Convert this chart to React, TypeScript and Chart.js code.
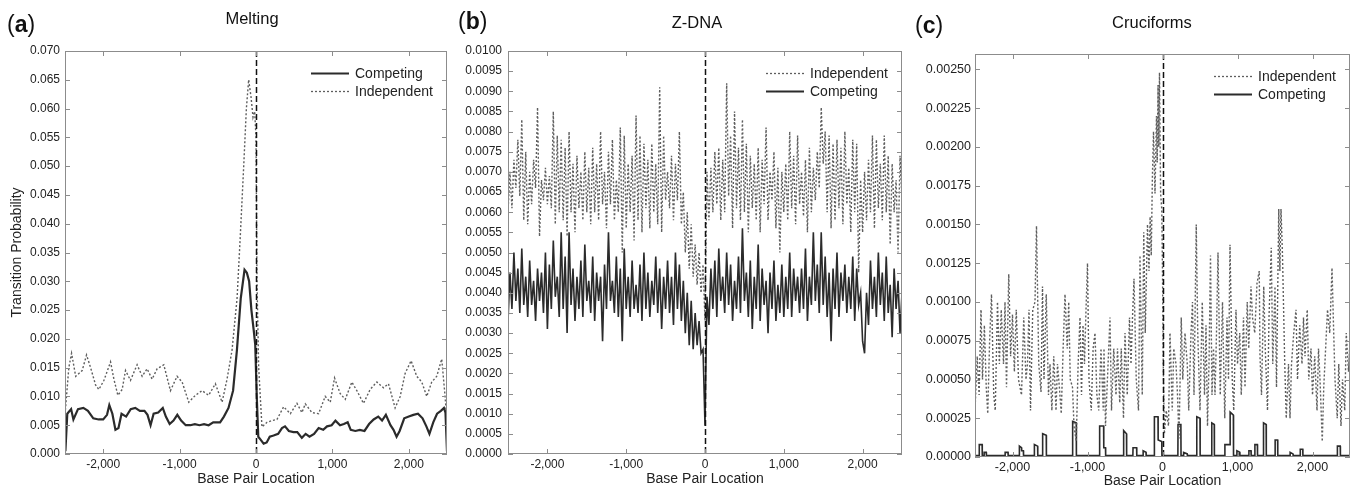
import React, { useEffect, useRef } from 'react';
import { Chart, registerables } from 'chart.js';
Chart.register(...registerables);

const FONT = '"Liberation Sans", Arial, Helvetica, sans-serif';

// ---------- shared x ticks ----------
const X_TICKS = [-2000, -1000, 0, 1000, 2000];

// ---------- Panel (a) Melting ----------
const A_Y_TICKS = [0, 0.005, 0.01, 0.015, 0.02, 0.025, 0.03, 0.035, 0.04, 0.045, 0.05, 0.055, 0.06, 0.065, 0.07];
const A_IND_X = [-2495, -2450, -2414, -2360, -2275, -2218, -2165, -2100, -2057, -1990, -1904, -1860, -1808, -1752, -1708, -1643, -1556, -1490, -1425, -1360, -1294, -1207, -1120, -1033, -967, -880, -793, -706, -619, -532, -444, -379, -314, -248, -205, -161, -126, -96, -65, -39, -17, 0, 13, 35, 78, 144, 209, 274, 362, 449, 536, 601, 645, 732, 819, 906, 972, 1028, 1102, 1168, 1255, 1320, 1407, 1494, 1582, 1669, 1734, 1821, 1887, 1952, 2030, 2104, 2170, 2235, 2300, 2366, 2431, 2475, 2497];
const A_IND_Y = [0.0076, 0.0150, 0.0175, 0.0135, 0.0145, 0.0172, 0.0150, 0.0120, 0.0112, 0.0128, 0.0160, 0.0130, 0.0102, 0.0112, 0.0145, 0.0128, 0.0155, 0.0135, 0.0148, 0.0130, 0.0148, 0.0155, 0.0110, 0.0135, 0.0125, 0.0090, 0.0102, 0.0110, 0.0102, 0.0122, 0.0090, 0.0130, 0.0180, 0.0270, 0.0380, 0.0500, 0.0600, 0.0650, 0.0620, 0.0585, 0.0595, 0.0550, 0.0300, 0.0150, 0.0047, 0.0055, 0.0058, 0.0060, 0.0082, 0.0070, 0.0088, 0.0072, 0.0087, 0.0072, 0.0070, 0.0100, 0.0090, 0.0132, 0.0105, 0.0095, 0.0125, 0.0110, 0.0088, 0.0112, 0.0125, 0.0115, 0.0122, 0.0080, 0.0100, 0.0140, 0.0162, 0.0135, 0.0125, 0.0100, 0.0125, 0.0135, 0.0165, 0.0100, 0.0060];
const A_COMP_X = [-2495, -2470, -2420, -2390, -2330, -2260, -2200, -2130, -2060, -2000, -1950, -1920, -1880, -1840, -1800, -1760, -1700, -1640, -1580, -1520, -1460, -1420, -1380, -1340, -1280, -1220, -1180, -1130, -1080, -1030, -980, -920, -860, -800, -740, -680, -620, -560, -510, -470, -420, -360, -300, -250, -200, -150, -120, -90, -60, -30, -10, 10, 30, 60, 100, 140, 180, 230, 290, 340, 380, 430, 490, 540, 600, 650, 700, 760, 820, 880, 930, 990, 1040, 1100, 1150, 1200, 1240, 1300, 1360, 1420, 1480, 1540, 1600, 1650, 1700, 1760, 1800, 1840, 1880, 1940, 2000, 2060, 2120, 2180, 2230, 2270, 2320, 2370, 2420, 2460, 2480, 2500];
const A_COMP_Y = [0.0005, 0.0070, 0.0078, 0.0060, 0.0078, 0.0080, 0.0075, 0.0062, 0.0060, 0.0060, 0.0068, 0.0085, 0.0070, 0.0042, 0.0045, 0.0070, 0.0065, 0.0078, 0.0080, 0.0075, 0.0075, 0.0068, 0.0050, 0.0070, 0.0072, 0.0080, 0.0065, 0.0052, 0.0058, 0.0068, 0.0058, 0.0050, 0.0050, 0.0052, 0.0050, 0.0052, 0.0050, 0.0055, 0.0055, 0.0055, 0.0065, 0.0080, 0.0110, 0.0180, 0.0270, 0.0320, 0.0315, 0.0300, 0.0250, 0.0215, 0.0190, 0.0100, 0.0030, 0.0025, 0.0018, 0.0020, 0.0030, 0.0032, 0.0035, 0.0045, 0.0048, 0.0040, 0.0038, 0.0038, 0.0028, 0.0035, 0.0030, 0.0035, 0.0045, 0.0042, 0.0048, 0.0050, 0.0058, 0.0050, 0.0052, 0.0055, 0.0042, 0.0040, 0.0042, 0.0040, 0.0052, 0.0060, 0.0065, 0.0058, 0.0068, 0.0050, 0.0042, 0.0030, 0.0040, 0.0062, 0.0065, 0.0068, 0.0070, 0.0062, 0.0048, 0.0035, 0.0055, 0.0070, 0.0075, 0.0080, 0.0072, 0.0005];

// ---------- Panel (b) Z-DNA (values every 25 bp from -2500 to 2500) ----------
const B_X_START = -2500;
const B_X_STEP = 25;
const B_Y_TICKS = [0, 0.0005, 0.001, 0.0015, 0.002, 0.0025, 0.003, 0.0035, 0.004, 0.0045, 0.005, 0.0055, 0.006, 0.0065, 0.007, 0.0075, 0.008, 0.0085, 0.009, 0.0095, 0.01];
const B_IND = [
  0.0060, 0.0070, 0.0061, 0.0073, 0.0066, 0.0078, 0.0064, 0.0083, 0.0058,
  0.0075, 0.0057, 0.0070, 0.0062, 0.0073, 0.0066, 0.0086, 0.0054,
  0.0068, 0.0063, 0.0071, 0.0062, 0.0069, 0.0061, 0.0085, 0.0057,
  0.0079, 0.0060, 0.0078, 0.0058, 0.0076, 0.0054, 0.0080, 0.0060,
  0.0072, 0.0055, 0.0074, 0.0061, 0.0070, 0.0058, 0.0075, 0.0060,
  0.0071, 0.0057, 0.0076, 0.0060, 0.0072, 0.0058, 0.0080, 0.0062,
  0.0070, 0.0056, 0.0075, 0.0062, 0.0078, 0.0058, 0.0068, 0.0060,
  0.0081, 0.0050, 0.0079, 0.0056, 0.0072, 0.0060, 0.0074, 0.0053,
  0.0084, 0.0058, 0.0079, 0.0055, 0.0077, 0.0061, 0.0073, 0.0056,
  0.0077, 0.0060, 0.0072, 0.0057, 0.0091, 0.0055, 0.0079, 0.0063,
  0.0070, 0.0061, 0.0074, 0.0058, 0.0072, 0.0063, 0.0080, 0.0057,
  0.0065, 0.0050, 0.0060, 0.0046, 0.0057, 0.0044, 0.0052, 0.0042,
  0.0050, 0.0040, 0.0047, 0.0033,
  0.0070, 0.0058, 0.0071, 0.0060, 0.0075, 0.0062, 0.0076, 0.0058,
  0.0073, 0.0060, 0.0092, 0.0064, 0.0079, 0.0056, 0.0085, 0.0061,
  0.0076, 0.0058, 0.0083, 0.0060, 0.0077, 0.0055, 0.0074, 0.0061,
  0.0072, 0.0058, 0.0076, 0.0055, 0.0073, 0.0062, 0.0081, 0.0058,
  0.0070, 0.0063, 0.0075, 0.0056, 0.0071, 0.0050, 0.0070, 0.0060,
  0.0072, 0.0058, 0.0080, 0.0061, 0.0074, 0.0057, 0.0079, 0.0062,
  0.0070, 0.0059, 0.0073, 0.0055, 0.0076, 0.0060, 0.0071, 0.0063,
  0.0075, 0.0066, 0.0086, 0.0072, 0.0080, 0.0060, 0.0079, 0.0056,
  0.0077, 0.0058, 0.0078, 0.0061, 0.0076, 0.0057, 0.0080, 0.0062,
  0.0071, 0.0055, 0.0078, 0.0060, 0.0077, 0.0045, 0.0068, 0.0055,
  0.0070, 0.0058, 0.0073, 0.0060, 0.0079, 0.0056, 0.0078, 0.0061,
  0.0072, 0.0058, 0.0079, 0.0060, 0.0074, 0.0052, 0.0072, 0.0060,
  0.0068, 0.0050, 0.0074, 0.0063,
];
const B_COMP = [
  0.0033, 0.0045, 0.0036, 0.0050, 0.0038, 0.0046, 0.0035, 0.0051, 0.0037,
  0.0044, 0.0034, 0.0048, 0.0037, 0.0043, 0.0033, 0.0046, 0.0038,
  0.0045, 0.0035, 0.0050, 0.0031, 0.0047, 0.0036, 0.0053, 0.0039,
  0.0044, 0.0034, 0.0055, 0.0036, 0.0049, 0.0030, 0.0055, 0.0037,
  0.0046, 0.0033, 0.0044, 0.0036, 0.0048, 0.0034, 0.0052, 0.0038,
  0.0043, 0.0035, 0.0049, 0.0033, 0.0045, 0.0038, 0.0044, 0.0028,
  0.0047, 0.0036, 0.0055, 0.0038, 0.0043, 0.0035, 0.0049, 0.0034,
  0.0046, 0.0028, 0.0051, 0.0036, 0.0044, 0.0034, 0.0048, 0.0036,
  0.0042, 0.0035, 0.0047, 0.0033, 0.0050, 0.0036, 0.0045, 0.0034,
  0.0043, 0.0037, 0.0049, 0.0035, 0.0046, 0.0031, 0.0044, 0.0036,
  0.0048, 0.0035, 0.0044, 0.0032, 0.0050, 0.0036, 0.0047, 0.0033,
  0.0043, 0.0030, 0.0040, 0.0027, 0.0038, 0.0026, 0.0035, 0.0027,
  0.0033, 0.0025, 0.0026, 0.0007,
  0.0039, 0.0032, 0.0046, 0.0036, 0.0048, 0.0034, 0.0051, 0.0038,
  0.0044, 0.0035, 0.0050, 0.0037, 0.0047, 0.0033, 0.0043, 0.0036,
  0.0049, 0.0035, 0.0056, 0.0038, 0.0045, 0.0034, 0.0048, 0.0031,
  0.0044, 0.0036, 0.0052, 0.0033, 0.0046, 0.0037, 0.0043, 0.0030,
  0.0045, 0.0036, 0.0048, 0.0033, 0.0042, 0.0035, 0.0047, 0.0034,
  0.0044, 0.0036, 0.0050, 0.0034, 0.0046, 0.0038, 0.0044, 0.0035,
  0.0046, 0.0036, 0.0051, 0.0033, 0.0044, 0.0037, 0.0055, 0.0038,
  0.0047, 0.0035, 0.0055, 0.0037, 0.0049, 0.0034, 0.0045, 0.0028,
  0.0046, 0.0036, 0.0050, 0.0034, 0.0045, 0.0038, 0.0047, 0.0035,
  0.0044, 0.0036, 0.0049, 0.0033, 0.0046, 0.0037, 0.0040, 0.0028,
  0.0025, 0.0040, 0.0032, 0.0048, 0.0036, 0.0044, 0.0034, 0.0050,
  0.0037, 0.0045, 0.0033, 0.0049, 0.0035, 0.0042, 0.0029, 0.0046,
  0.0036, 0.0043, 0.0030, 0.0040,
];

// ---------- Panel (c) Cruciforms ----------
const C_Y_TICKS = [0, 0.00025, 0.0005, 0.00075, 0.001, 0.00125, 0.0015, 0.00175, 0.002, 0.00225, 0.0025];
const C_IND = [
  [-2500, 0.00030], [-2470, 0.00065], [-2445, 0.00040], [-2420, 0.00095], [-2400, 0.00050], [-2375, 0.00085], [-2350, 0.00045], [-2330, 0.00028], [-2305, 0.00075], [-2280, 0.00105],
  [-2250, 0.00040], [-2230, 0.00030], [-2200, 0.00100], [-2175, 0.00060], [-2150, 0.00095], [-2120, 0.00060], [-2100, 0.00100], [-2080, 0.00045], [-2050, 0.00118], [-2025, 0.00065],
  [-2000, 0.00092], [-1975, 0.00055], [-1950, 0.00095], [-1920, 0.00050], [-1880, 0.00040], [-1850, 0.00090], [-1820, 0.00050], [-1800, 0.00060], [-1780, 0.00095], [-1760, 0.00030],
  [-1730, 0.00095], [-1700, 0.00100], [-1680, 0.00149], [-1650, 0.00060], [-1620, 0.00042], [-1600, 0.00110], [-1580, 0.00050], [-1550, 0.00105], [-1520, 0.00040], [-1500, 0.00060],
  [-1475, 0.00030], [-1450, 0.00065], [-1420, 0.00030], [-1400, 0.00060], [-1375, 0.00045], [-1350, 0.00028], [-1325, 0.00070], [-1300, 0.00105], [-1270, 0.00070], [-1250, 0.00100],
  [-1230, 0.00050], [-1200, 0.00045], [-1180, 0.00020], [-1150, 0.00010], [-1125, 0.00060], [-1100, 0.00090], [-1080, 0.00040], [-1060, 0.00085], [-1040, 0.00060], [-1020, 0.00095],
  [-1000, 0.00125], [-980, 0.00050], [-950, 0.00030], [-925, 0.00070], [-900, 0.00080], [-875, 0.00040], [-850, 0.00030], [-820, 0.00070], [-790, 0.00030], [-780, 0.00070],
  [-760, 0.00020], [-730, 0.00055], [-700, 0.00090], [-680, 0.00030], [-650, 0.00070], [-620, 0.00040], [-600, 0.00070], [-570, 0.00035], [-550, 0.00070], [-520, 0.00025],
  [-500, 0.00080], [-470, 0.00040], [-440, 0.00090], [-420, 0.00060], [-400, 0.00090], [-380, 0.00115], [-350, 0.00050], [-320, 0.00030], [-300, 0.00130], [-270, 0.00040],
  [-250, 0.00145], [-230, 0.00080], [-200, 0.00150], [-180, 0.00120], [-165, 0.00155], [-150, 0.00130], [-135, 0.00180], [-120, 0.00210], [-100, 0.00170], [-80, 0.00220],
  [-70, 0.00190], [-60, 0.00240], [-50, 0.00200], [-40, 0.00248], [-25, 0.00170], [-10, 0.00160], [0, 0.00120], [10, 0.00060], [25, 0.00015], [50, 0.00030],
  [80, 0.00020], [100, 0.00080], [130, 0.00030], [150, 0.00070], [180, 0.00060], [200, 0.00040], [220, 0.00012], [250, 0.00090], [270, 0.00050], [300, 0.00080],
  [330, 0.00060], [350, 0.00030], [380, 0.00080], [400, 0.00100], [420, 0.00040], [450, 0.00150], [470, 0.00080], [500, 0.00030], [530, 0.00100], [560, 0.00040],
  [580, 0.00085], [600, 0.00020], [620, 0.00060], [640, 0.00130], [660, 0.00040], [680, 0.00070], [700, 0.00040], [720, 0.00080], [740, 0.00132], [770, 0.00040],
  [800, 0.00100], [830, 0.00025], [860, 0.00090], [880, 0.00050], [900, 0.00137], [930, 0.00050], [950, 0.00030], [980, 0.00095], [1000, 0.00060], [1030, 0.00080],
  [1050, 0.00040], [1080, 0.00090], [1100, 0.00045], [1130, 0.00100], [1150, 0.00070], [1180, 0.00110], [1200, 0.00090], [1230, 0.00080], [1260, 0.00112], [1290, 0.00120],
  [1300, 0.00065], [1320, 0.00040], [1350, 0.00110], [1370, 0.00070], [1400, 0.00030], [1420, 0.00090], [1450, 0.00135], [1470, 0.00060], [1500, 0.00110], [1520, 0.00045],
  [1550, 0.00160], [1565, 0.00120], [1580, 0.00160], [1600, 0.00130], [1630, 0.00060], [1650, 0.00025], [1680, 0.00060], [1700, 0.00025], [1720, 0.00060], [1750, 0.00080],
  [1780, 0.00095], [1800, 0.00050], [1830, 0.00085], [1860, 0.00060], [1880, 0.00090], [1900, 0.00065], [1930, 0.00095], [1950, 0.00050], [1980, 0.00070], [2000, 0.00040],
  [2030, 0.00065], [2060, 0.00030], [2080, 0.00070], [2100, 0.00050], [2130, 0.00010], [2150, 0.00045], [2180, 0.00075], [2200, 0.00095], [2230, 0.00080], [2260, 0.00122],
  [2280, 0.00085], [2300, 0.00050], [2330, 0.00025], [2350, 0.00060], [2380, 0.00020], [2400, 0.00050], [2430, 0.00030], [2450, 0.00080], [2480, 0.00055], [2500, 0.00075],
];
const C_COMP = [
  [-2500, 0.00001],
  [-2445, 0.00001], [-2443, 0.00008], [-2405, 0.00008], [-2403, 0.00001],
  [-2380, 0.00001], [-2378, 0.00003], [-2350, 0.00003], [-2348, 0.00001],
  [-2100, 0.00001], [-2098, 0.00003], [-2060, 0.00003], [-2058, 0.00001],
  [-1910, 0.00001], [-1908, 0.00007], [-1880, 0.00006], [-1878, 0.00004], [-1855, 0.00004], [-1853, 0.00001],
  [-1710, 0.00001], [-1708, 0.00008], [-1665, 0.00007], [-1663, 0.00001],
  [-1600, 0.00001], [-1598, 0.00015], [-1550, 0.00014], [-1548, 0.00001],
  [-1200, 0.00001], [-1198, 0.00023], [-1150, 0.00022], [-1148, 0.00001],
  [-840, 0.00001], [-838, 0.00020], [-785, 0.00020], [-783, 0.00006], [-760, 0.00006], [-758, 0.00001],
  [-520, 0.00001], [-518, 0.00017], [-480, 0.00015], [-478, 0.00001],
  [-395, 0.00001], [-393, 0.00006], [-345, 0.00006], [-343, 0.00001],
  [-260, 0.00001], [-258, 0.00004], [-220, 0.00003], [-218, 0.00001],
  [-110, 0.00001], [-108, 0.00026], [-60, 0.00026], [-58, 0.00011], [-10, 0.00010], [-8, 0.00001],
  [205, 0.00001], [207, 0.00021], [245, 0.00021], [247, 0.00001],
  [280, 0.00001], [282, 0.00003], [330, 0.00002], [332, 0.00001],
  [455, 0.00001], [457, 0.00026], [500, 0.00025], [502, 0.00001],
  [655, 0.00001], [657, 0.00022], [690, 0.00021], [692, 0.00001],
  [830, 0.00001], [832, 0.00008], [900, 0.00008], [902, 0.00029], [945, 0.00027], [947, 0.00001],
  [990, 0.00001], [992, 0.00004], [1030, 0.00003], [1032, 0.00001],
  [1150, 0.00001], [1152, 0.00004], [1180, 0.00004], [1182, 0.00001],
  [1230, 0.00001], [1232, 0.00008], [1265, 0.00008], [1267, 0.00001],
  [1345, 0.00001], [1347, 0.00022], [1382, 0.00021], [1384, 0.00001],
  [1500, 0.00001], [1502, 0.00011], [1535, 0.00011], [1537, 0.00001],
  [1700, 0.00001], [1702, 0.00003], [1740, 0.00002], [1742, 0.00001],
  [1835, 0.00001], [1837, 0.00005], [1870, 0.00005], [1872, 0.00001],
  [2330, 0.00001], [2332, 0.00007], [2370, 0.00007], [2372, 0.00001],
  [2500, 0.00001],
];

// ---------- helpers ----------
const zip = (xs: number[], ys: number[]) => xs.slice(0, Math.min(xs.length, ys.length)).map((x, i) => ({ x, y: ys[i] }));
const pairs = (p: number[][]) => p.map(([x, y]) => ({ x, y }));
const grid = (ys: number[], start: number, step: number) => ys.map((y, i) => ({ x: start + i * step, y }));

const COMP_COLOR = '#2b2b2b';
const IND_COLOR = '#5e5e5e';
const TEXT_COLOR = '#222';
const FRAME_COLOR = '#8c8c8c';

type LegendItem = { label: string; dotted: boolean };

function decorPlugin(yTicks: number[], legend: LegendItem[]) {
  return {
    id: 'decor',
    afterDraw(chart: any) {
      const { ctx, chartArea: a, scales } = chart;
      const xs = scales.x, ys = scales.y;
      ctx.save();
      // zero line
      const zx = Math.round(xs.getPixelForValue(0)) + 0.5;
      ctx.strokeStyle = '#111';
      ctx.lineWidth = 1.5;
      ctx.setLineDash([6, 3]);
      ctx.beginPath();
      ctx.moveTo(zx, a.top);
      ctx.lineTo(zx, a.bottom);
      ctx.stroke();
      ctx.setLineDash([]);
      // frame
      ctx.strokeStyle = FRAME_COLOR;
      ctx.lineWidth = 1;
      ctx.strokeRect(a.left + 0.5, a.top + 0.5, a.right - a.left - 1, a.bottom - a.top - 1);
      // inward ticks
      const TL = 5;
      ctx.beginPath();
      for (const v of yTicks) {
        const py = Math.round(ys.getPixelForValue(v)) + 0.5;
        ctx.moveTo(a.left, py); ctx.lineTo(a.left + TL, py);
        ctx.moveTo(a.right, py); ctx.lineTo(a.right - TL, py);
      }
      for (const v of X_TICKS) {
        const px = Math.round(xs.getPixelForValue(v)) + 0.5;
        ctx.moveTo(px, a.bottom); ctx.lineTo(px, a.bottom - TL);
        ctx.moveTo(px, a.top); ctx.lineTo(px, a.top + TL);
      }
      ctx.stroke();
      // legend
      const x0 = a.right - 136;
      const len = 38;
      ctx.font = `14px ${FONT}`;
      ctx.textBaseline = 'middle';
      ctx.textAlign = 'left';
      legend.forEach((it, i) => {
        const y = a.top + 22 + i * 18;
        ctx.beginPath();
        ctx.strokeStyle = it.dotted ? IND_COLOR : COMP_COLOR;
        ctx.lineWidth = it.dotted ? 1.3 : 1.8;
        ctx.setLineDash(it.dotted ? [2, 2] : []);
        ctx.moveTo(x0, y + 0.5);
        ctx.lineTo(x0 + len, y + 0.5);
        ctx.stroke();
        ctx.setLineDash([]);
        ctx.fillStyle = TEXT_COLOR;
        ctx.fillText(it.label, x0 + len + 6, y + 1);
      });
      ctx.restore();
    },
  };
}

type Spec = {
  left: number; w: number; padTop: number; padRight: number;
  yWidth: number; xHeight: number; yMax: number; yTicks: number[]; decimals: number;
  tickPad: number; tickFont: number; yTitle?: string; xTitlePad: number;
  datasets: any[]; legend: LegendItem[];
};

function compDs(data: any[], width: number) {
  return { label: 'Competing', data, borderColor: COMP_COLOR, borderWidth: width, pointRadius: 0, fill: false, tension: 0 };
}
function indDs(data: any[], width: number) {
  return { label: 'Independent', data, borderColor: IND_COLOR, borderWidth: width, borderDash: [2, 2], pointRadius: 0, fill: false, tension: 0 };
}

function buildConfig(s: Spec): any {
  return {
    type: 'line',
    data: { datasets: s.datasets },
    options: {
      animation: false,
      responsive: false,
      devicePixelRatio: 1,
      layout: { padding: { top: s.padTop, right: s.padRight, left: 0, bottom: 0 } },
      plugins: { legend: { display: false }, tooltip: { enabled: false }, title: { display: false } },
      scales: {
        x: {
          type: 'linear', min: -2500, max: 2500,
          afterBuildTicks: (sc: any) => { sc.ticks = X_TICKS.map((v) => ({ value: v })); },
          afterFit: (sc: any) => { sc.height = s.xHeight; },
          grid: { display: false, drawTicks: false },
          border: { display: false },
          ticks: {
            autoSkip: false, maxRotation: 0, padding: 3, color: TEXT_COLOR,
            font: { family: FONT, size: s.tickFont },
            callback: (v: any) => Number(v).toLocaleString('en-US'),
          },
          title: { display: true, text: 'Base Pair Location', color: TEXT_COLOR, font: { family: FONT, size: 14 }, padding: { top: 0, bottom: s.xTitlePad } },
        },
        y: {
          type: 'linear', min: 0, max: s.yMax,
          afterBuildTicks: (sc: any) => { sc.ticks = s.yTicks.map((v) => ({ value: v })); },
          afterFit: (sc: any) => { sc.width = s.yWidth; },
          grid: { display: false, drawTicks: false },
          border: { display: false },
          ticks: {
            autoSkip: false, padding: s.tickPad, color: TEXT_COLOR,
            font: { family: FONT, size: s.tickFont },
            callback: (v: any) => Number(v).toFixed(s.decimals),
          },
          title: s.yTitle
            ? { display: true, text: s.yTitle, color: TEXT_COLOR, font: { family: FONT, size: 14 }, padding: { top: 8.6, bottom: 0 } }
            : { display: false },
        },
      },
    },
    plugins: [decorPlugin(s.yTicks, s.legend)],
  };
}

function Panel({ spec }: { spec: Spec }) {
  const ref = useRef<HTMLCanvasElement | null>(null);
  useEffect(() => {
    if (!ref.current) return;
    const chart = new Chart(ref.current, buildConfig(spec));
    return () => chart.destroy();
  }, []);
  return (
    <canvas
      ref={ref}
      width={spec.w}
      height={488}
      style={{ position: 'absolute', left: spec.left, top: 0, width: spec.w, height: 488 }}
    />
  );
}

const SPEC_A: Spec = {
  left: 0, w: 455, padTop: 51, padRight: 8, yWidth: 65, xHeight: 34, yMax: 0.07,
  yTicks: A_Y_TICKS, decimals: 3, tickPad: 5, tickFont: 12, yTitle: 'Transition Probability', xTitlePad: 0.6,
  datasets: [compDs(zip(A_COMP_X, A_COMP_Y), 2.2), indDs(zip(A_IND_X, A_IND_Y), 1.4)],
  legend: [{ label: 'Competing', dotted: false }, { label: 'Independent', dotted: true }],
};
const SPEC_B: Spec = {
  left: 445, w: 465, padTop: 51, padRight: 8, yWidth: 63, xHeight: 34, yMax: 0.01,
  yTicks: B_Y_TICKS, decimals: 4, tickPad: 6, tickFont: 12, xTitlePad: 0.6,
  datasets: [indDs(grid(B_IND, B_X_START, B_X_STEP), 1.4), compDs(grid(B_COMP, B_X_START, B_X_STEP), 1.6)],
  legend: [{ label: 'Independent', dotted: true }, { label: 'Competing', dotted: false }],
};
const SPEC_C: Spec = {
  left: 910, w: 443, padTop: 54, padRight: 3, yWidth: 65, xHeight: 31, yMax: 0.0026,
  yTicks: C_Y_TICKS, decimals: 5, tickPad: 4, tickFont: 12.5, xTitlePad: -2,
  datasets: [indDs(pairs(C_IND), 1.4), compDs(pairs(C_COMP), 1.6)],
  legend: [{ label: 'Independent', dotted: true }, { label: 'Competing', dotted: false }],
};

const labelStyle = (left: number, top: number): React.CSSProperties => ({
  position: 'absolute', left, top, fontFamily: FONT, fontSize: 23, lineHeight: '23px', color: '#111', whiteSpace: 'nowrap',
});
const titleStyle = (cx: number, top: number): React.CSSProperties => ({
  position: 'absolute', left: cx - 100, width: 200, top, textAlign: 'center', fontFamily: FONT, fontSize: 16.5, lineHeight: '20px', color: '#111',
});

export default function App() {
  return (
    <div style={{ position: 'fixed', left: 0, top: 0, width: 1353, height: 488, background: '#fff', overflow: 'hidden' }}>
      <Panel spec={SPEC_A} />
      <Panel spec={SPEC_B} />
      <Panel spec={SPEC_C} />
      <div style={labelStyle(7, 13)}>(<b>a</b>)</div>
      <div style={labelStyle(458, 10)}>(<b>b</b>)</div>
      <div style={labelStyle(915, 14)}>(<b>c</b>)</div>
      <div style={titleStyle(252, 8)}>Melting</div>
      <div style={titleStyle(697, 12)}>Z-DNA</div>
      <div style={titleStyle(1152, 12)}>Cruciforms</div>
    </div>
  );
}
